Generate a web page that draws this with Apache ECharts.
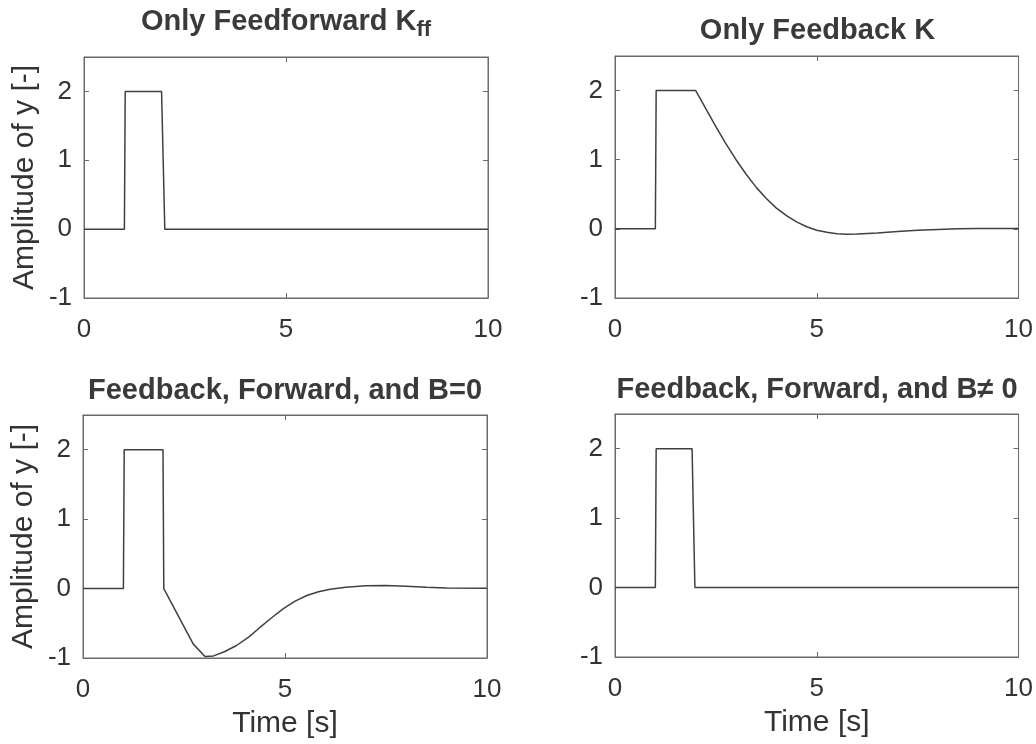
<!DOCTYPE html>
<html>
<head>
<meta charset="utf-8">
<script src="https://cdn.jsdelivr.net/npm/echarts@6/dist/echarts.min.js"></script>
<style>
  html, body { margin: 0; padding: 0; background: #fff; }
  #main { width: 1036px; height: 744px; }
</style>
</head>
<body>
<div id="main"></div>
<script>
// response data
var xTicks = [0, 5, 10];
var yTicks = [-1, 0, 1, 2];

var ffTime = [0, 1, 1.02, 1.92, 2, 10];
var ffY    = [0, 0, 2, 2, 0, 0];

var fbTime = [0, 1, 1.02, 2, 2.25, 2.5, 2.75, 3, 3.25, 3.5, 3.75, 4, 4.25, 4.5, 4.75, 5, 5.25, 5.5, 5.75, 6, 6.5, 7, 7.5, 8, 8.5, 9, 10];
var fbY    = [0, 0, 2, 2, 1.74, 1.48, 1.23, 1.0, 0.79, 0.6, 0.44, 0.3, 0.19, 0.1, 0.03, -0.02, -0.05, -0.07, -0.078, -0.075, -0.06, -0.04, -0.02, -0.008, 0, 0.004, 0.005];

var b0Time = [0, 1, 1.02, 1.98, 2, 2.73, 3.02, 3.23, 3.5, 3.8, 4.1, 4.38, 4.67, 4.96, 5.25, 5.54, 5.83, 6.12, 6.5, 7, 7.5, 8, 8.5, 9, 10];
var b0Y    = [0, 0, 2, 2, 0, -0.8, -0.98, -0.97, -0.91, -0.82, -0.7, -0.56, -0.42, -0.29, -0.18, -0.1, -0.045, -0.01, 0.02, 0.04, 0.043, 0.032, 0.018, 0.01, 0.005];

var bnTime = [0, 1, 1.02, 1.91, 1.98, 10];
var bnY    = [0, 0, 2, 2, 0, 0];

function pairs(t, y) {
  var out = [];
  for (var i = 0; i < t.length; i++) out.push([t[i], y[i]]);
  return out;
}

var textColor = '#333';
var boxColor = '#6a6a6a';
var fontFam = 'Liberation Sans, Arial, sans-serif';

var grids = [
  {left: 84, top: 57, width: 404, height: 241},
  {left: 615, top: 56, width: 405, height: 242},
  {left: 83, top: 415, width: 404, height: 243},
  {left: 615, top: 414, width: 404, height: 243}
];
// vertical centre of each title line
var titleMid = [24, 33, 393, 392];
var titles = [
  '{a|Only Feedforward K}{b|ff}',
  '{a|Only Feedback K}',
  '{a|Feedback, Forward, and B=0}',
  '{a|Feedback, Forward, and B\u2260 0}'
];
var lines = [pairs(ffTime, ffY), pairs(fbTime, fbY), pairs(b0Time, b0Y), pairs(bnTime, bnY)];

var option = {
  backgroundColor: '#fff',
  animation: false,
  title: [],
  grid: [],
  xAxis: [],
  yAxis: [],
  series: []
};

for (var i = 0; i < 4; i++) {
  var g = grids[i];
  option.grid.push({left: g.left, top: g.top, width: g.width, height: g.height,
    show: true, borderColor: boxColor, borderWidth: 1, backgroundColor: '#fff'});
  option.title.push({
    text: titles[i],
    left: g.left + g.width / 2,
    top: titleMid[i] - 17,
    padding: 0,
    textAlign: 'center',
    textStyle: {
      rich: {
        a: {fontSize: 29, fontWeight: 'bold', color: '#3a3a3a', fontFamily: fontFam, lineHeight: 34, verticalAlign: 'top'},
        b: {fontSize: 22, fontWeight: 'bold', color: '#3a3a3a', fontFamily: fontFam, lineHeight: 24, padding: [22, 0, 0, 0], verticalAlign: 'bottom'}
      }
    }
  });
  var bottomRow = i >= 2;
  var leftCol = i % 2 === 0;
  // bottom x axis
  option.xAxis.push({
    type: 'value', gridIndex: i, min: 0, max: 10, interval: 5, position: 'bottom',
    name: bottomRow ? 'Time [s]' : '', nameLocation: 'middle', nameGap: 51,
    nameTextStyle: {fontSize: 30, color: textColor, fontFamily: fontFam},
    axisLine: {show: true, onZero: false, lineStyle: {color: boxColor, width: 1}},
    axisTick: {show: true, inside: true, length: 5, lineStyle: {color: boxColor}},
    axisLabel: {fontSize: 26, color: textColor, fontFamily: fontFam, margin: 19,
      formatter: function (v) { return xTicks.indexOf(v) >= 0 ? String(v) : ''; }},
    splitLine: {show: false}
  });
  // top x axis (ticks only)
  option.xAxis.push({
    type: 'value', gridIndex: i, min: 0, max: 10, interval: 5, position: 'top',
    axisLine: {show: true, onZero: false, lineStyle: {color: boxColor, width: 1}},
    axisTick: {show: true, inside: true, length: 5, lineStyle: {color: boxColor}},
    axisLabel: {show: false}, splitLine: {show: false}
  });
  // left y axis
  option.yAxis.push({
    type: 'value', gridIndex: i, min: -1, max: 2.5, interval: 1, position: 'left',
    name: leftCol ? 'Amplitude of y [-]' : '', nameLocation: 'middle', nameGap: 44,
    nameTextStyle: {fontSize: 30, color: textColor, fontFamily: fontFam},
    axisLine: {show: true, onZero: false, lineStyle: {color: boxColor, width: 1}},
    axisTick: {show: true, inside: true, length: 5, lineStyle: {color: boxColor}},
    axisLabel: {fontSize: 26, color: textColor, fontFamily: fontFam, margin: 12, showMaxLabel: false,
      formatter: function (v) { return yTicks.indexOf(v) >= 0 ? String(v) : ''; }},
    splitLine: {show: false}
  });
  // right y axis (ticks only)
  option.yAxis.push({
    type: 'value', gridIndex: i, min: -1, max: 2.5, interval: 1, position: 'right',
    axisLine: {show: true, onZero: false, lineStyle: {color: boxColor, width: 1}},
    axisTick: {show: true, inside: true, length: 5, lineStyle: {color: boxColor}},
    axisLabel: {show: false}, splitLine: {show: false}
  });
  option.series.push({
    type: 'line',
    xAxisIndex: i * 2,
    yAxisIndex: i * 2,
    data: lines[i],
    smooth: false,
    showSymbol: false,
    lineStyle: {color: '#404040', width: 1.5},
    z: 3
  });
}

var chart = echarts.init(document.getElementById('main'));
chart.setOption(option);
</script>
</body>
</html>
